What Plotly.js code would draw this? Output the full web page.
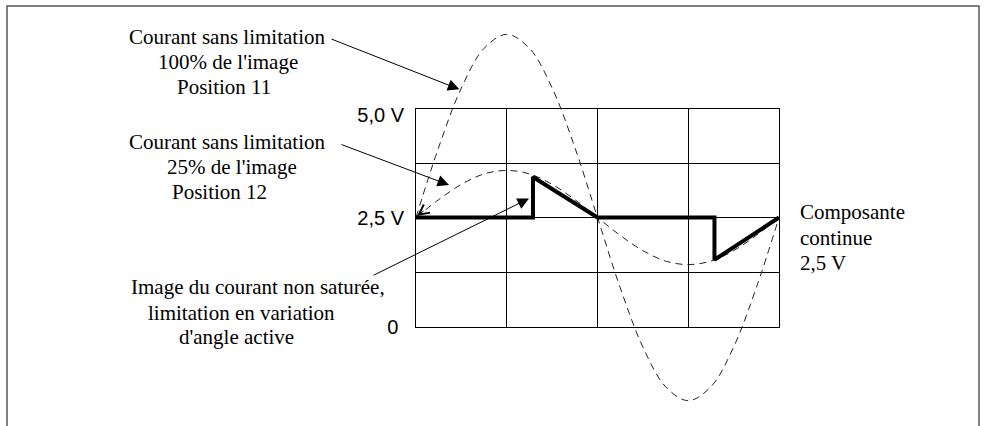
<!DOCTYPE html>
<html>
<head>
<meta charset="utf-8">
<script src="https://cdn.plot.ly/plotly-3.0.1.min.js"></script>
<style>html,body{margin:0;padding:0;background:#fff;}#chart{width:985px;height:426px;}</style>
</head>
<body>
<div id="chart"></div>
<script>
// ---- data ----
const phaseDeg = [0, 22.5, 45, 67.5, 90, 112.5, 135, 157.5, 180, 202.5, 225, 247.5, 270, 292.5, 315, 337.5, 360];
const current100 = [2.5, 4.11, 5.47, 6.38, 6.70, 6.38, 5.47, 4.11, 2.5, 0.89, -0.47, -1.38, -1.70, -1.38, -0.47, 0.89, 2.5];
const current25  = [2.5, 2.91, 3.26, 3.50, 3.58, 3.50, 3.26, 2.91, 2.5, 2.09, 1.74, 1.50, 1.42, 1.50, 1.74, 2.09, 2.5];
const limitedX = [0, 116, 116, 180, 296, 296, 360];
const limitedY = [2.5, 2.5, 3.43, 2.5, 2.5, 1.53, 2.5];
const gridX = [0, 90, 180, 270, 360];
const gridY = [0, 1.25, 2.5, 3.75, 5];
const yLabelVals = [0, 2.5, 4.86];
const yLabelText = ['0\u00a0', '2,5 V', '5,0 V'];

// ---- layout constants ----
const W = 985, H = 426;
const gx0 = 416, gx1 = 779, gyTop = 108.5, gyBot = 326.5;
const degPerPx = 360 / (gx1 - gx0);
const vPerPx = 5 / (gyBot - gyTop);
const px = x => x / W;
const py = y => 1 - y / H;
const serif = {family: 'Liberation Serif', size: 21, color: '#000'};
const sans = {family: 'Liberation Sans', size: 20, color: '#000'};

const traces = [
  // empty trace so the grid subplot (x/y) is created
  {x: [], y: [], xaxis: 'x', yaxis: 'y', mode: 'lines', hoverinfo: 'skip'},
  {x: phaseDeg, y: current100, xaxis: 'x2', yaxis: 'y2', mode: 'lines',
   line: {color: '#222', width: 1, dash: '7px,5px', shape: 'spline'}, hoverinfo: 'skip'},
  {x: phaseDeg, y: current25, xaxis: 'x2', yaxis: 'y2', mode: 'lines',
   line: {color: '#222', width: 1, dash: '7px,5px', shape: 'spline'}, hoverinfo: 'skip'},
  {x: limitedX, y: limitedY, xaxis: 'x2', yaxis: 'y2', mode: 'lines',
   line: {color: '#000', width: 4}, hoverinfo: 'skip'}
];

function txt(text, left, cy) {
  return {text: text, xref: 'paper', yref: 'paper', x: px(left - 1), y: py(cy),
          xanchor: 'left', yanchor: 'middle', showarrow: false, font: serif};
}
function arrow(hx, hy, tx, ty, head, size) {
  return {text: '', xref: 'paper', yref: 'paper', x: px(hx), y: py(hy),
          ax: tx - hx, ay: ty - hy, showarrow: true, arrowhead: head, arrowsize: size,
          arrowwidth: 1, arrowcolor: '#000', standoff: 0, startstandoff: 0};
}

const annotations = [
  txt('Courant sans limitation', 128.3, 37.2),
  txt("100% de l'image", 156.7, 61.7),
  txt('Position 11', 176, 87.2),
  txt('Courant sans limitation', 128.3, 142),
  txt("25% de l'image", 165.7, 167),
  txt('Position 12', 170.7, 192.2),
  txt('Image du courant non saturée,', 130, 287),
  txt('limitation en variation', 146.7, 312.7),
  txt("d'angle active", 178.3, 336.7),
  txt('Composante', 799.3, 212),
  txt('continue', 799.3, 238),
  txt('2,5 V', 799.3, 263),
  arrow(459.3, 89.3, 330, 38.5, 2, 2.3),
  arrow(449, 185, 340, 144, 2, 2.3),
  arrow(529, 198.5, 372, 276, 2, 2.3),
  arrow(417, 216, 425, 210, 5, 2)
];

const layout = {
  width: W, height: H,
  margin: {l: 0, r: 0, t: 0, b: 0, pad: 0},
  paper_bgcolor: '#fff', plot_bgcolor: 'rgba(0,0,0,0)',
  showlegend: false,
  xaxis: {domain: [px(gx0), px(gx1)], range: [0, 360], tickvals: gridX, showticklabels: false,
          showgrid: true, gridcolor: '#000', gridwidth: 1, zeroline: false,
          showline: true, mirror: true, linecolor: '#000', linewidth: 1, ticks: '', fixedrange: true},
  yaxis: {domain: [py(gyBot), py(gyTop)], range: [0, 5], tickvals: yLabelVals, ticktext: yLabelText,
          showgrid: false, zeroline: false,
          minor: {tickvals: gridY, showgrid: true, gridcolor: '#000', gridwidth: 1, ticks: ''},
          showline: true, mirror: true, linecolor: '#000', linewidth: 1, ticks: '',
          ticklabelstandoff: 7, tickfont: sans, fixedrange: true},
  xaxis2: {domain: [0, 1], anchor: 'y2', range: [0 - gx0 * degPerPx, 360 + (W - gx1) * degPerPx],
           visible: false, fixedrange: true},
  yaxis2: {domain: [0, 1], anchor: 'x2', range: [0 - (H - gyBot) * vPerPx, 5 + gyTop * vPerPx],
           visible: false, fixedrange: true},
  shapes: [
    {type: 'path', xref: 'paper', yref: 'paper',
     path: 'M ' + px(7) + ' ' + py(H + 2) + ' L ' + px(7) + ' ' + py(6) + ' L ' + px(979) + ' ' + py(6) + ' L ' + px(979) + ' ' + py(H + 2),
     line: {color: '#555', width: 1.5}}
  ],
  annotations: annotations
};

Plotly.newPlot('chart', traces, layout, {staticPlot: true, displayModeBar: false});
</script>
</body>
</html>
